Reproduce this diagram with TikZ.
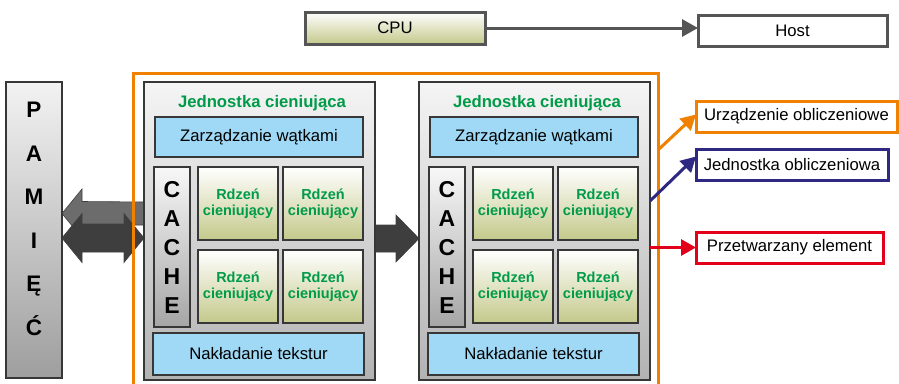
\documentclass[tikz,border=0pt]{standalone}
\usepackage{fontspec}
\setmainfont{Liberation Sans}
\usetikzlibrary{arrows.meta,calc}
\pgfdeclarelayer{bg}
\pgfsetlayers{bg,main}
\definecolor{grtxt}{RGB}{0,155,72}
\definecolor{oran}{RGB}{240,128,0}
\definecolor{navyc}{RGB}{46,40,130}
\definecolor{redc}{RGB}{226,0,26}
\definecolor{bluef}{RGB}{160,217,246}
\definecolor{olivec}{RGB}{196,201,139}
\definecolor{edgec}{RGB}{55,55,55}
\definecolor{darkarr}{RGB}{62,62,62}
\definecolor{grayarr}{RGB}{108,108,108}
\definecolor{connc}{RGB}{85,85,85}
\begin{document}
\begin{tikzpicture}[x=1pt,y=-1pt,
  base/.style={inner sep=0pt, outer sep=0pt, anchor=north west},
  normtxt/.style={font=\fontsize{16.7}{20}\selectfont},
  unitbox/.style={base, draw=edgec, line width=1.4pt, top color=black!4, bottom color=black!30, minimum width=231pt, minimum height=298pt},
  titletxt/.style={font=\fontsize{16.7}{20}\selectfont\bfseries, text=grtxt, inner sep=0pt},
  bluebox/.style={base, normtxt, draw=edgec, line width=1.3pt, fill=bluef},
  cachebox/.style={base, draw=edgec, line width=1.3pt, top color=black!3, bottom color=black!35, minimum width=36pt, minimum height=160pt, align=center, font=\fontsize{23}{29}\selectfont\bfseries},
  corebox/.style={base, draw=edgec, line width=1.3pt, top color=white, bottom color=olivec, minimum width=80pt, minimum height=73pt, align=center, text=grtxt, font=\fontsize{14.5}{16.5}\selectfont\bfseries},
  topbox/.style={base, normtxt, draw=connc, line width=3pt},
  legbox/.style={base, normtxt, line width=3pt, fill=white, inner sep=0pt, minimum height=31pt},
  legarr/.style={line width=3pt, -{Triangle[length=15pt,width=16pt]}},
  blockarr/.style={draw=black!75, line width=0.6pt}
]
\useasboundingbox (0,0) rectangle (899,383);
\clip (0,0) rectangle (899,383);

% top row
\node[topbox, top color=white, bottom color=olivec, minimum width=180pt, minimum height=32pt] (cpu) at (305,12) {CPU};
\node[topbox, fill=white, minimum width=189pt, minimum height=31pt] (host) at (698,15) {Host};
\draw[line width=3pt, connc, -{Triangle[length=16pt,width=17pt]}] (cpu.east) -- (cpu.east -| host.west);

% memory
\node[base, draw=edgec, line width=1.2pt, top color=black!5, bottom color=black!38, minimum width=56pt, minimum height=296pt] (pam) at (6,82) {};
\node[align=center, inner sep=0pt, font=\fontsize{22.5}{43.5}\selectfont\bfseries] (pamtxt) at (34,219) {P\\A\\M\\I\\Ę\\Ć};

% shader units
\foreach \i/\dx in {1/0,2/275}{
  \node[unitbox] (u\i) at (144+\dx,82) {};
  \node[titletxt, anchor=base] (t\i) at (262+\dx,107) {Jednostka cieniująca};
  \node[bluebox, minimum width=208pt, minimum height=40pt] (z\i) at (155+\dx,117) {Zarządzanie wątkami};
  \node[cachebox] (k\i) at (154+\dx,167) {C\\A\\C\\H\\E};
  \node[corebox] (ca\i) at (198+\dx,167) {Rdzeń\\cieniujący};
  \node[corebox] (cb\i) at (283+\dx,167) {Rdzeń\\cieniujący};
  \node[corebox] (cc\i) at (198+\dx,250) {Rdzeń\\cieniujący};
  \node[corebox] (cd\i) at (283+\dx,250) {Rdzeń\\cieniujący};
  \node[bluebox, minimum width=211pt, minimum height=42pt] (n\i) at (153+\dx,333) {Nakładanie tekstur};
}

% block arrows (behind)
\begin{pgfonlayer}{bg}
  \coordinate (gl) at (pam.east |- 0,213.5);
  \coordinate (gr) at (u1.west |- 0,213.5);
  \fill[grayarr, blockarr] (gl) -- ++(20,-24.5) -- ++(0,12.5) -- ($(gr)+(2,-11.5)$) -- ++(0,23) -- ($(gl)+(20,11.5)$) -- ++(0,13) -- cycle;
  \coordinate (dl) at (pam.east |- 0,238);
  \coordinate (dr) at (u1.west |- 0,238);
  \fill[darkarr, blockarr] (dl) -- ++(20,-24.5) -- ++(0,10.5) -- ($(dr)+(-20,-14)$) -- ++(0,-10.5) -- (dr) -- ++(-20,24.5) -- ++(0,-10.5) -- ($(dl)+(20,14)$) -- ++(0,10.5) -- cycle;
  \coordinate (ml) at (u1.east |- 0,238.5);
  \coordinate (mr) at (u2.west |- 0,238.5);
  \fill[darkarr, blockarr] ($(ml)+(-2,-13.5)$) -- ($(mr)+(-23,-13.5)$) -- ++(0,-10) -- (mr) -- ++(-23,23.5) -- ++(0,-10) -- ($(ml)+(-2,13.5)$) -- cycle;
\end{pgfonlayer}

% compute device frame
\node[base, draw=oran, line width=3pt, minimum width=525pt, minimum height=330pt] (dev) at (133,73) {};

% legend
\node[legbox, draw=oran, minimum width=201pt] (l1) at (696,101) {Urządzenie obliczeniowe};
\node[legbox, draw=navyc, minimum width=192pt] (l2) at (696,149) {Jednostka obliczeniowa};
\node[legbox, draw=redc, minimum width=187pt] (l3) at (696,232) {Przetwarzany element};

\coordinate (oa) at (dev.north east |- 0,150);
\draw[legarr, oran] (oa) -- ([yshift=2pt]l1.west);
\coordinate (na) at (u2.east |- 0,201);
\draw[legarr, navyc] (na) -- ([yshift=8pt]l2.west);
\draw[legarr, redc] (u2.east |- l3.west) -- (l3.west);
\end{tikzpicture}
\end{document}
